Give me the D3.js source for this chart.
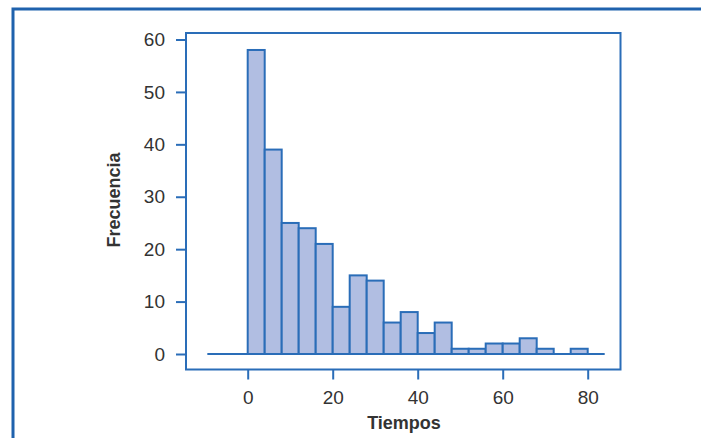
<!DOCTYPE html>
<html>
<head>
<meta charset="utf-8">
<script src="https://cdn.jsdelivr.net/npm/d3@7"></script>
<style>
  html, body { margin: 0; padding: 0; background: #fff; }
  svg { display: block; }
  text { font-family: "Liberation Sans", Arial, sans-serif; fill: #333; }
</style>
</head>
<body>
<svg id="chart" width="701" height="438"></svg>
<script>
// Histogram of times: bins of width 4 starting at 0
const binStarts = [0, 4, 8, 12, 16, 20, 24, 28, 32, 36, 40, 44, 48, 52, 56, 60, 64, 68, 72, 76];
const binWidth = 4;
const counts = [58, 39, 25, 24, 21, 9, 15, 14, 6, 8, 4, 6, 1, 1, 2, 2, 3, 1, 0, 1];
const xTicks = [0, 20, 40, 60, 80];
const yTicks = [0, 10, 20, 30, 40, 50, 60];
const xLabel = "Tiempos";
const yLabel = "Frecuencia";

const blue = "#2a6db8";
const fill = "#b1bee2";

const svg = d3.select("#chart");

// outer frame (extends past the right and bottom edges)
svg.append("path")
  .attr("d", "M13,440 L13,9 L705,9")
  .attr("fill", "none")
  .attr("stroke", "#1f62ad")
  .attr("stroke-width", 3);

const x = d3.scaleLinear().domain([0, 80]).range([247.7, 587.7]);
const y = d3.scaleLinear().domain([0, 60]).range([354, 39.5]);

// plot box
const box = { left: 186, top: 33, right: 620.5, bottom: 369.5 };
svg.append("rect")
  .attr("x", box.left).attr("y", box.top)
  .attr("width", box.right - box.left).attr("height", box.bottom - box.top)
  .attr("fill", "none").attr("stroke", blue).attr("stroke-width", 2);

// baseline
svg.append("line")
  .attr("x1", x(-9.5)).attr("x2", x(84))
  .attr("y1", y(0)).attr("y2", y(0))
  .attr("stroke", blue).attr("stroke-width", 2);

// bars
svg.append("g").selectAll("rect")
  .data(binStarts.map((s, i) => ({ s, c: counts[i] })).filter(d => d.c > 0))
  .join("rect")
  .attr("x", d => x(d.s))
  .attr("y", d => y(d.c))
  .attr("width", d => x(d.s + binWidth) - x(d.s))
  .attr("height", d => y(0) - y(d.c))
  .attr("fill", fill)
  .attr("stroke", blue)
  .attr("stroke-width", 2);

// y axis
const yAxis = d3.axisLeft(y).tickValues(yTicks).tickSize(10).tickPadding(11).tickFormat(d3.format("d"));
const gy = svg.append("g").attr("transform", `translate(${box.left},0)`).call(yAxis);
gy.select(".domain").remove();
gy.selectAll(".tick line").attr("stroke", blue).attr("stroke-width", 2);
gy.selectAll(".tick text").style("font-size", "19px").attr("fill", "#333");

// x axis
const xAxis = d3.axisBottom(x).tickValues(xTicks).tickSize(10).tickPadding(11).tickFormat(d3.format("d"));
const gx = svg.append("g").attr("transform", `translate(0,${box.bottom})`).call(xAxis);
gx.select(".domain").remove();
gx.selectAll(".tick line").attr("stroke", blue).attr("stroke-width", 2);
gx.selectAll(".tick text").style("font-size", "19px").attr("fill", "#333");

// axis titles
svg.append("text")
  .attr("x", 404).attr("y", 429)
  .attr("text-anchor", "middle")
  .style("font-size", "18px").style("font-weight", "bold")
  .text(xLabel);

svg.append("text")
  .attr("transform", "translate(120,200) rotate(-90)")
  .attr("text-anchor", "middle")
  .style("font-size", "18px").style("font-weight", "bold")
  .text(yLabel);
</script>
</body>
</html>
